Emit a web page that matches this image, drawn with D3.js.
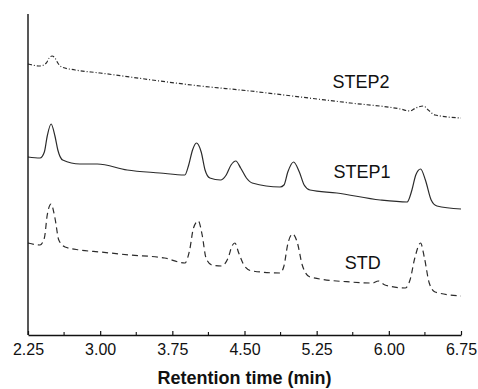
<!DOCTYPE html>
<html>
<head>
<meta charset="utf-8">
<script src="https://d3js.org/d3.v7.min.js"></script>
<style>
  body { margin: 0; background: #fff; }
  svg { display: block; }
</style>
</head>
<body>
<div id="chart"></div>
<script>
// Retention time ticks (min)
const xTicks = [2.25, 3.00, 3.75, 4.50, 5.25, 6.00, 6.75];
const xMinorTicks = [2.625, 3.375, 4.125, 4.875, 5.625, 6.375];

// Traces: [retention time, detector signal (arbitrary, offset stacked)]
const step2 = [
  [2.25, 271], [2.375, 269], [2.44, 272], [2.47, 277], [2.50, 279], [2.53, 277],
  [2.56, 272], [2.60, 268], [2.74, 265], [3.00, 262], [3.31, 258], [3.62, 254],
  [4.04, 249], [4.56, 244], [5.08, 238], [5.60, 232], [6.12, 226], [6.22, 224],
  [6.28, 227], [6.36, 229], [6.41, 225], [6.48, 220], [6.75, 217]
];
const step1 = [
  [2.25, 178], [2.375, 177], [2.42, 183], [2.45, 199], [2.49, 211], [2.53, 199],
  [2.56, 185], [2.61, 175], [2.79, 171], [2.97, 171], [3.28, 165], [3.62, 162],
  [3.88, 160], [3.92, 170], [3.96, 185], [4.00, 192], [4.05, 183], [4.09, 165],
  [4.14, 157], [4.25, 155], [4.31, 160], [4.36, 170], [4.41, 174], [4.46, 167],
  [4.52, 157], [4.58, 152], [4.87, 148], [4.91, 150], [4.95, 163], [5.01, 173],
  [5.07, 163], [5.12, 150], [5.18, 145], [5.46, 142], [5.91, 135], [6.19, 133],
  [6.24, 145], [6.28, 160], [6.33, 166], [6.38, 155], [6.44, 135], [6.50, 129],
  [6.75, 126]
];
const std = [
  [2.25, 92], [2.375, 90], [2.42, 97], [2.45, 120], [2.49, 131], [2.53, 117],
  [2.57, 95], [2.635, 88], [2.79, 85], [3.00, 83], [3.31, 80], [3.67, 77],
  [3.88, 72], [3.93, 85], [3.97, 107], [4.02, 114], [4.06, 100], [4.10, 77],
  [4.16, 70], [4.26, 69], [4.33, 77], [4.37, 89], [4.40, 92], [4.44, 82],
  [4.50, 69], [4.58, 64], [4.87, 62], [4.91, 69], [4.95, 91], [5.00, 101],
  [5.05, 92], [5.10, 70], [5.18, 58], [5.60, 53], [5.83, 52], [5.89, 54],
  [5.96, 50], [6.17, 47], [6.22, 55], [6.27, 77], [6.33, 92], [6.37, 77],
  [6.42, 52], [6.48, 43], [6.75, 39]
];

const series = [
  { name: "STEP2", values: step2, dash: "4,2,1,2", label: [5.71, 247] },
  { name: "STEP1", values: step1, dash: null, label: [5.72, 157] },
  { name: "STD", values: std, dash: "6,4", label: [5.73, 66] }
];

const width = 478, height = 389;
const margin = { top: 14, right: 17, bottom: 54, left: 28 };

const svg = d3.select("#chart").append("svg")
  .attr("width", width)
  .attr("height", height);

const x = d3.scaleLinear()
  .domain([2.25, 6.75])
  .range([margin.left, width - margin.right]);

const y = d3.scaleLinear()
  .domain([0, 321])
  .range([height - margin.bottom, margin.top]);

const font = "'Liberation Sans', Arial, Helvetica, sans-serif";
const ink = "#2b2b2b";

// Traces
const line = d3.line()
  .x(d => x(d[0]))
  .y(d => y(d[1]))
  .curve(d3.curveMonotoneX);

svg.selectAll(".trace")
  .data(series)
  .enter()
  .append("path")
  .attr("class", "trace")
  .attr("d", d => line(d.values))
  .attr("fill", "none")
  .attr("stroke", ink)
  .attr("stroke-width", 1.2)
  .attr("stroke-dasharray", d => d.dash);

// Trace labels
svg.selectAll(".trace-label")
  .data(series)
  .enter()
  .append("text")
  .attr("class", "trace-label")
  .attr("x", d => x(d.label[0]))
  .attr("y", d => y(d.label[1]))
  .attr("text-anchor", "middle")
  .style("font-family", font)
  .style("font-size", "18px")
  .style("fill", "#111")
  .text(d => d.name);

// Left axis (no ticks)
svg.append("line")
  .attr("x1", x(2.25)).attr("x2", x(2.25))
  .attr("y1", y(321)).attr("y2", y(0))
  .attr("stroke", "#111")
  .attr("stroke-width", 1.4);

// Bottom axis, ticks pointing inward
const xAxis = svg.append("g")
  .attr("transform", `translate(0,${y(0)})`)
  .call(d3.axisBottom(x)
    .tickValues(xTicks)
    .tickSizeInner(-4)
    .tickSizeOuter(0)
    .tickPadding(9)
    .tickFormat(d3.format(".2f")));

xAxis.select(".domain").attr("stroke", "#111").attr("stroke-width", 1.4);
xAxis.selectAll(".tick line").attr("stroke", "#111").attr("stroke-width", 1.2);
xAxis.selectAll(".tick text")
  .style("font-family", font)
  .style("font-size", "16px")
  .style("fill", "#111");

svg.append("g")
  .selectAll("line")
  .data(xMinorTicks)
  .enter()
  .append("line")
  .attr("x1", d => x(d)).attr("x2", d => x(d))
  .attr("y1", y(0)).attr("y2", y(0) - 3)
  .attr("stroke", "#111")
  .attr("stroke-width", 1.1);

// Axis title
svg.append("text")
  .attr("x", (x(2.25) + x(6.75)) / 2)
  .attr("y", 384)
  .attr("text-anchor", "middle")
  .style("font-family", font)
  .style("font-size", "18px")
  .style("font-weight", "bold")
  .style("fill", "#111")
  .text("Retention time (min)");
</script>
</body>
</html>
